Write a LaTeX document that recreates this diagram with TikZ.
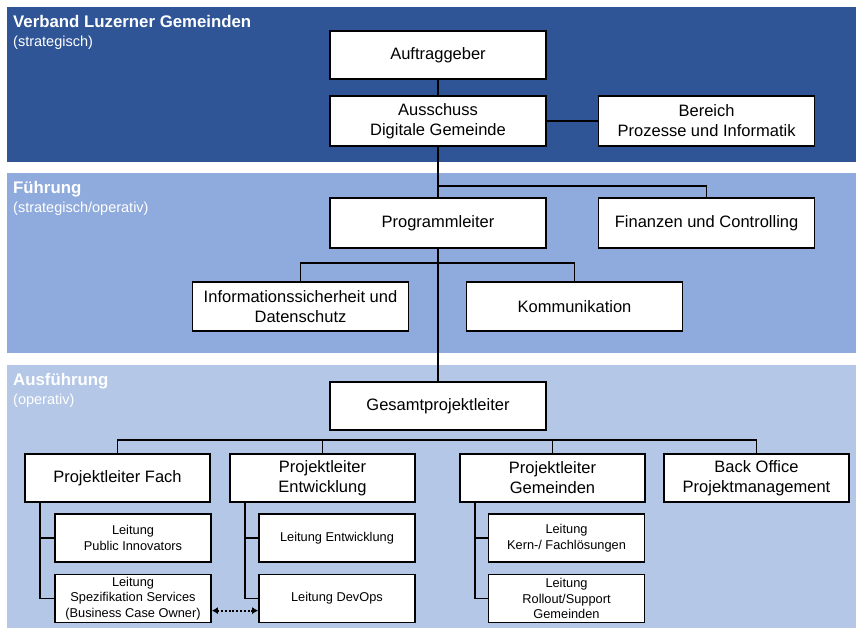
\documentclass[tikz,border=0pt]{standalone}
\usepackage{fontspec}
\setmainfont{Liberation Sans}
\usetikzlibrary{positioning,arrows.meta}
\definecolor{ebeneeins}{HTML}{2F5597}
\definecolor{ebenezwei}{HTML}{8FAADC}
\definecolor{ebenedrei}{HTML}{B4C7E7}

\begin{document}
\begin{tikzpicture}[x=1pt,y=-1pt,
    box/.style={draw, line width=1.6pt, fill=white, align=center, inner sep=2pt,
      minimum width=216pt, minimum height=49pt, font=\fontsize{16.5}{20}\selectfont},
    plbox/.style={box, minimum width=185pt, minimum height=48pt},
    subbox/.style={box, minimum width=156pt, minimum height=48pt,
      font=\fontsize{12.8}{15.5}\selectfont},
    verbindung/.style={line width=1.6pt},
    ebene/.style={anchor=base west, inner sep=0pt, text=white,
      font=\fontsize{16.8}{20}\selectfont\bfseries},
    ebenesub/.style={anchor=base west, inner sep=0pt, text=white,
      font=\fontsize{14.5}{17}\selectfont}]
      \useasboundingbox (0,0) rectangle (856,630);
      % Ebenen
      \fill[ebeneeins] (7,7) rectangle (856,162);
      \fill[ebenezwei] (7,173) rectangle (856,353);
      \fill[ebenedrei] (7,365) rectangle (856,628);
      \node[ebene] (titeleins) at (13,27) {Verband Luzerner Gemeinden};
      \node[ebenesub] (subeins) at (13,46) {(strategisch)};
      \node[ebene] (titelzwei) at (13,193) {Führung};
      \node[ebenesub] (subzwei) at (13,212) {(strategisch/operativ)};
      \node[ebene] (titeldrei) at (13,385) {Ausführung};
      \node[ebenesub] (subdrei) at (13,404) {(operativ)};

      % Boxen
      \node[box, minimum height=48pt] (auftrag) at (438,55) {Auftraggeber};
      \node[box, minimum height=50pt] (ausschuss) at (438,121) {Ausschuss\\Digitale Gemeinde};
      \node[box, minimum height=50pt, right=51pt of ausschuss] (bereich) {Bereich\\Prozesse und Informatik};
      \node[box, minimum height=50pt] (programm) at (438,223) {Programmleiter};
      \node[box, minimum height=50pt, right=51pt of programm] (finanzen) {Finanzen und Controlling};
      \node[box] (infosec) at (300.5,306.5) {Informationssicherheit und\\Datenschutz};
      \node[box] (komm) at (574.5,306.5) {Kommunikation};
      \node[box, minimum height=48pt] (gesamt) at (438,406) {Gesamtprojektleiter};

      \node[plbox] (plfach) at (117.5,478) {Projektleiter Fach};
      \node[plbox] (plentw) at (322.5,478) {Projektleiter\\Entwicklung};
      \node[plbox] (plgem) at (552.5,478) {Projektleiter\\Gemeinden};
      \node[plbox] (backoffice) at (756.5,478) {Back Office\\Projektmanagement};

      \node[subbox] (fachpi) at (133,538) {Leitung\\Public Innovators};
      \node[subbox, below=11pt of fachpi] (fachspez) {Leitung\\Spezifikation Services\\(Business Case Owner)};
      \node[subbox] (entwlt) at (337,538) {Leitung Entwicklung};
      \node[subbox, below=11pt of entwlt] (entwdevops) {Leitung DevOps};
      \node[subbox] (gemkern) at (566.5,538) {Leitung\\Kern-/ Fachlösungen};
      \node[subbox, below=11pt of gemkern] (gemroll) {Leitung\\Rollout/Support\\Gemeinden};

      % Verbindungen
      \coordinate (jfin) at (437,186);
      \coordinate (jstab) at (437,263);
      \coordinate (jpl) at (437,440);
      \draw[verbindung] (auftrag) -- (ausschuss);
      \draw[verbindung] (ausschuss) -- (bereich);
      \draw[verbindung] (ausschuss) -- (programm);
      \draw[verbindung] (jfin) -| (finanzen.north);
      \draw[verbindung] (programm) -- (gesamt);
      \draw[verbindung] (infosec.north) |- (jstab) -| (komm.north);
      \draw[verbindung] (plfach.north) |- (jpl) -| (backoffice.north);
      \draw[verbindung] (jpl) -| (plentw.north);
      \draw[verbindung] (jpl) -| (plgem.north);
      \foreach \pl/\oben/\unten in {plfach/fachpi/fachspez, plentw/entwlt/entwdevops, plgem/gemkern/gemroll} {
        \coordinate (t\pl) at ([xshift=16pt]\pl.south west);
        \draw[verbindung] (t\pl) |- (\oben.west);
        \draw[verbindung] (t\pl) |- (\unten.west);
      }
      \draw[line width=1.9pt, dash pattern=on 1.9pt off 1.9pt, {Latex[length=6pt,width=7pt]}-{Latex[length=6pt,width=7pt]}]
        ([yshift=-12pt]fachspez.east) -- ([yshift=-12pt]entwdevops.west);
\end{tikzpicture}
\end{document}
